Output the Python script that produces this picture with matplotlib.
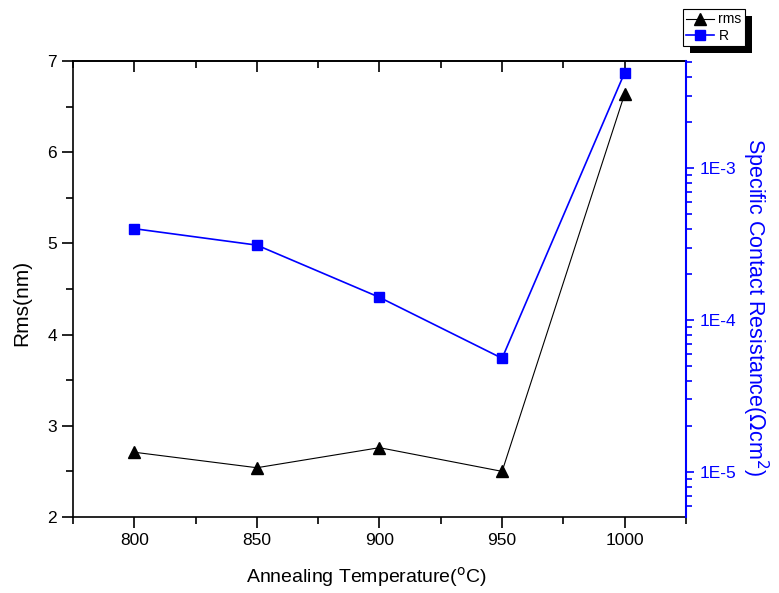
import matplotlib
matplotlib.use("Agg")
import matplotlib.pyplot as plt
from matplotlib.patches import Rectangle
from matplotlib.ticker import MultipleLocator, LogLocator, NullFormatter, FixedLocator, FixedFormatter

plt.rcParams['font.family'] = ['Liberation Sans', 'DejaVu Sans']

temp = [800, 850, 900, 950, 1000]
rms = [2.71, 2.54, 2.76, 2.50, 6.64]
rc = [3.99e-4, 3.11e-4, 1.41e-4, 5.6e-5, 4.25e-3]

fig = plt.figure(figsize=(7.79, 5.93), dpi=100)
ax = fig.add_axes([0.0937, 0.1282, 0.7869, 0.7689])
ax2 = ax.twinx()

l1, = ax.plot(temp, rms, '-^', color='black', lw=0.8, ms=8, mec='black', label='rms')
l2, = ax2.plot(temp, rc, '-s', color='#0000ff', lw=1.2, ms=6.5, mec='#0000ff', label='R')

ax.set_xlim(775, 1025)
ax.set_ylim(2, 7)
ax2.set_yscale('log')
ax2.set_ylim(5.06e-6, 5.06e-3)

ax.xaxis.set_major_locator(MultipleLocator(50))
ax.xaxis.set_minor_locator(MultipleLocator(25))
ax.yaxis.set_major_locator(MultipleLocator(1))
ax.yaxis.set_minor_locator(MultipleLocator(0.5))

ax.tick_params(axis='x', which='both', direction='out', top=False, labelsize=12.5, width=1.2)
ax.tick_params(axis='y', which='both', direction='out', right=False, labelsize=12.5, width=1.2)
ax.tick_params(which='major', length=8)
ax.tick_params(which='minor', length=5)

# inward ticks along the top edge
top = ax.secondary_xaxis('top')
top.xaxis.set_major_locator(MultipleLocator(50))
top.xaxis.set_minor_locator(MultipleLocator(25))
top.tick_params(which='both', direction='in', labeltop=False, width=1.2)
top.tick_params(which='major', length=8)
top.tick_params(which='minor', length=5)
top.spines['top'].set_linewidth(1.2)

ax2.yaxis.set_major_locator(FixedLocator([1e-5, 1e-4, 1e-3]))
ax2.yaxis.set_major_formatter(FixedFormatter(['1E-5', '1E-4', '1E-3']))
ax2.yaxis.set_minor_locator(LogLocator(base=10, subs=range(2, 10)))
ax2.yaxis.set_minor_formatter(NullFormatter())
ax2.tick_params(axis='y', which='both', direction='out', colors='#0000ff', labelsize=12.5, width=1.2)
ax2.tick_params(which='major', length=6)
ax2.tick_params(which='minor', length=4)

for s in ax.spines.values():
    s.set_linewidth(1.2)
ax2.spines['right'].set_color('#0000ff')
ax2.spines['right'].set_linewidth(1.5)
ax2.spines['left'].set_visible(False)
ax2.spines['top'].set_visible(False)
ax2.spines['bottom'].set_visible(False)

ax.set_xlabel('Annealing Temperature($^{\\rm o}$C)', fontsize=14)
ax.xaxis.set_label_coords(0.478, -0.105)
ax.set_ylabel('Rms(nm)', fontsize=15)
ax.yaxis.set_label_coords(-0.068, 0.47)
ax2.set_ylabel('Specific Contact Resistance($\\Omega$cm$^2$)', fontsize=15.5,
               color='#0000ff', rotation=-90)
ax2.yaxis.set_label_coords(1.138, 0.46)

leg = fig.legend(handles=[l1, l2], loc='upper left', bbox_to_anchor=(683 / 779, 1 - 9 / 593),
                 fontsize=10, frameon=True, fancybox=False, edgecolor='black', framealpha=1,
                 handlelength=2.0, handletextpad=0.3, borderpad=0.25, labelspacing=0.15,
                 borderaxespad=0, markerscale=1.0)
leg.get_frame().set_linewidth(0.8)
leg.set_zorder(10)

fig.canvas.draw()
bb = leg.get_window_extent().transformed(fig.transFigure.inverted())
dx, dy = 7 / 779, 7 / 593
fig.patches.append(Rectangle((bb.x0 + dx, bb.y0 - dy), bb.width, bb.height,
                             transform=fig.transFigure, facecolor='black',
                             edgecolor='none', zorder=9))

fig.savefig('out.png', dpi=100)
